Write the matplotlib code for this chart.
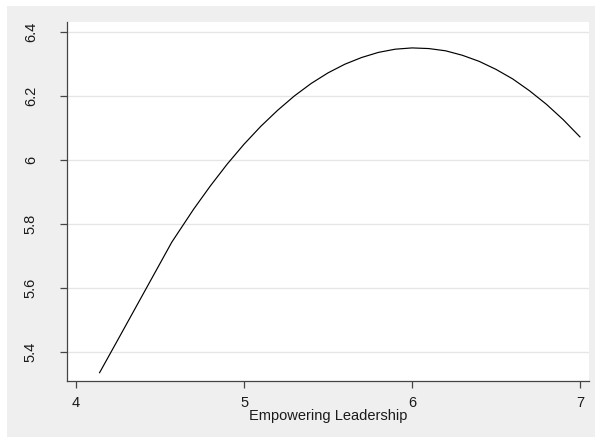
import matplotlib
matplotlib.use("Agg")
import matplotlib.pyplot as plt
from matplotlib.patches import Rectangle

# Predicted outcome across levels of empowering leadership
leadership = [4.14, 4.25, 4.35, 4.45, 4.57, 4.70, 4.80, 4.90, 5.00, 5.10, 5.20, 5.30,
              5.40, 5.50, 5.60, 5.70, 5.80, 5.90, 6.00, 6.10, 6.20, 6.30, 6.40, 6.50,
              6.60, 6.70, 6.80, 6.90, 7.00]
predicted = [5.335, 5.439, 5.534, 5.629, 5.743, 5.846, 5.919, 5.987, 6.049, 6.105, 6.155, 6.200,
             6.239, 6.272, 6.299, 6.320, 6.336, 6.346, 6.350, 6.348, 6.341, 6.327, 6.308, 6.283,
             6.253, 6.216, 6.174, 6.126, 6.072]

x_ticks = [4, 5, 6, 7]
y_ticks = [5.4, 5.6, 5.8, 6.0, 6.2, 6.4]
y_tick_labels = ["5.4", "5.6", "5.8", "6", "6.2", "6.4"]
x_label = "Empowering Leadership"

plt.rcParams["font.family"] = ["Liberation Sans", "DejaVu Sans"]

W, H = 595, 437
fig = plt.figure(figsize=(W / 100, H / 100), dpi=100, facecolor="white")

# light grey graph region inset from the figure edge
fig.patches.append(Rectangle((7 / W, 0), 1 - 7 / W, 1 - 6 / H, transform=fig.transFigure,
                             facecolor="#efefef", edgecolor="none", zorder=-10))

left, right, top, bottom = 67, 589, 22, 381
ax = fig.add_axes([left / W, 1 - bottom / H, (right - left) / W, (bottom - top) / H])
ax.set_zorder(5)
ax.set_facecolor("white")

ax.plot(leadership, predicted, color="black", linewidth=0.85, zorder=3)

ax.set_xlim(3.946, 7.054)
ax.set_ylim(5.309, 6.431)
ax.set_xticks(x_ticks)
ax.set_xticklabels([str(t) for t in x_ticks])
ax.set_yticks(y_ticks)
ax.set_yticklabels(y_tick_labels, rotation=90, va="center")

ax.grid(axis="y", color="#e6e6e6", linewidth=1.0)
ax.set_axisbelow(True)

for s in ["top", "right"]:
    ax.spines[s].set_visible(False)
for s in ["left", "bottom"]:
    ax.spines[s].set_color("#444444")
    ax.spines[s].set_linewidth(0.9)

ax.tick_params(axis="x", length=5, width=0.9, color="#444444", pad=6, labelsize=10.5, labelcolor="#1a1a1a")
ax.tick_params(axis="y", length=5, width=0.9, color="#444444", pad=16, labelsize=10.5, labelcolor="#1a1a1a")

ax.set_xlabel(x_label, fontsize=10.5, color="#1a1a1a", labelpad=-1)

fig.savefig("out.png", dpi=100, facecolor="white")
